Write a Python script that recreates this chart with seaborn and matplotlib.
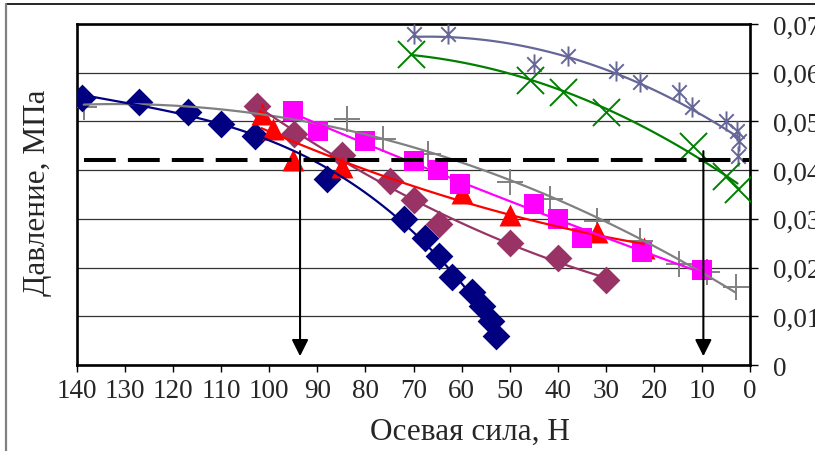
import matplotlib
matplotlib.use('Agg')
import matplotlib.pyplot as plt
from matplotlib.lines import Line2D
from matplotlib.path import Path
from matplotlib.ticker import FuncFormatter, MultipleLocator
import seaborn as sns

# данные (осевая сила, Н / давление, МПа)
navy_x = [139, 127, 117, 110, 103, 88, 72, 67.7, 64.6, 61.9, 57.8, 55.7, 53.9, 52.8]
navy_y = [0.0549, 0.0539, 0.0520, 0.0495, 0.0470, 0.0382, 0.0300, 0.0260, 0.0224,
          0.0181, 0.0149, 0.0122, 0.0091, 0.0060]

maroon_x = [102.6, 94.8, 84.9, 74.9, 70, 64.6, 49.9, 39.9, 29.9]
maroon_y = [0.0531, 0.0474, 0.0431, 0.0378, 0.0339, 0.0289, 0.0250, 0.0220, 0.0175]

red_x = [101.6, 99.2, 95, 84.9, 59.9, 50, 31.8, 22.1]
red_y = [0.0515, 0.0484, 0.0420, 0.0406, 0.0353, 0.0308, 0.0273, 0.0240]

magenta_x = [95, 89.9, 80.1, 70, 65, 60.3, 45, 40, 35, 22.4, 9.9]
magenta_y = [0.0522, 0.0481, 0.0460, 0.0418, 0.0401, 0.0371, 0.0330, 0.0300,
             0.0261, 0.0231, 0.0195]

gray_x = [138.6, 83.9, 76.3, 66.9, 49.9, 41.7, 31.9, 22.8, 14.8, 8.9, 3.0]
gray_y = [0.0529, 0.0505, 0.0464, 0.0433, 0.0375, 0.0341, 0.0296, 0.0255,
          0.0207, 0.0190, 0.0160]

slate_x = [70, 62.9, 45, 37.9, 27.8, 22.8, 14.8, 12, 4.9, 2.8, 2.3, 2.6]
slate_y = [0.0679, 0.0679, 0.0618, 0.0635, 0.0604, 0.0580, 0.0560, 0.0529,
           0.0501, 0.0481, 0.0460, 0.0430]

green_x = [70.5, 45.8, 38.8, 29.9, 11.9, 4.9, 2.6]
green_y = [0.0638, 0.0585, 0.0560, 0.0520, 0.0450, 0.0389, 0.0361]

threshold = 0.0421          # пунктирная линия
threshold_span = [138.5, 0.3]
arrow_x = [93.6, 9.7]       # стрелки вниз
arrow_top, arrow_tip = 0.0439, 0.0018

sns.set_style('white')
plt.rcParams['font.family'] = ['Liberation Serif', 'DejaVu Serif']

fig = plt.figure(figsize=(8.15, 4.52), dpi=100)
ax = fig.add_axes([77 / 815, 1 - 366 / 452, 673 / 815, 341 / 452])

# звёздочка как в Excel: вертикаль + косой крест
star = Path([(0, -1), (0, 1), (-0.72, -0.72), (0.72, 0.72), (-0.72, 0.72), (0.72, -0.72)],
            [Path.MOVETO, Path.LINETO, Path.MOVETO, Path.LINETO, Path.MOVETO, Path.LINETO])

series = [
    (gray_x, gray_y, '#808080', '+', 330, 2),
    (navy_x, navy_y, '#000080', 'D', 200, 3),
    (maroon_x, maroon_y, '#993366', 'D', 200, 2),
    (red_x, red_y, '#FF0000', '^', 250, 2),
    (magenta_x, magenta_y, '#FF00FF', 's', 200, 2),
    (slate_x, slate_y, '#666699', star, 210, 2),
    (green_x, green_y, '#008000', 'x', 380, 2),
]

for xs, ys, col, mk, size, order in series:
    line_art = isinstance(mk, Path) or mk in ('+', 'x')
    sns.scatterplot(x=xs, y=ys, marker=mk, s=size, color=col, edgecolor=col,
                    linewidth=1.4 if line_art else 0, ax=ax, zorder=3)
    sns.regplot(x=xs, y=ys, order=order, ci=None, scatter=False, truncate=True,
                line_kws=dict(color=col, lw=1.6, zorder=4), ax=ax)

# пунктир и стрелки
ax.plot(threshold_span, [threshold, threshold], color='black', lw=2.9,
        linestyle=(0, (7.9, 3.0)), dash_capstyle='butt', zorder=5)
for xa in arrow_x:
    ax.annotate('', xy=(xa, arrow_tip), xytext=(xa, arrow_top),
                arrowprops=dict(arrowstyle='-|>,head_length=1.0,head_width=0.5',
                                mutation_scale=10, lw=1.5, color='black',
                                shrinkA=0, shrinkB=0), zorder=6)

ax.set_xlim(140, 0)
ax.set_ylim(0, 0.07)
ax.xaxis.set_major_locator(MultipleLocator(10))
ax.yaxis.set_major_locator(MultipleLocator(0.01))
ax.yaxis.set_major_formatter(FuncFormatter(
    lambda v, p: '0' if abs(v) < 1e-9 else ('%.2f' % v).replace('.', ',')))
ax.yaxis.tick_right()
ax.grid(axis='y', color='#333333', lw=0.9)
ax.set_axisbelow(True)
for sp in ax.spines.values():
    sp.set_color('black')
    sp.set_linewidth(1.9)
ax.tick_params(axis='x', direction='out', length=5, width=1, color='black',
               labelsize=19.5, pad=4, bottom=True)
ax.tick_params(axis='y', direction='out', length=6, width=1, color='black',
               labelsize=19.5, pad=10.5, right=True, left=False)
ax.set_xlabel('')
ax.set_ylabel('')

fig.text(470 / 815, 1 - 432 / 452, 'Осевая сила, Н', fontsize=22.5,
         ha='center', va='center')
fig.text(38 / 815, 1 - 193 / 452, 'Давление, МПа', fontsize=22.5, rotation=90,
         ha='center', va='center')

# рамка области диаграммы
fig.add_artist(Line2D([6 / 815, 1], [1 - 5 / 452, 1 - 5 / 452],
                      transform=fig.transFigure, color='black', lw=1.2))
fig.add_artist(Line2D([6 / 815, 6 / 815], [0, 1 - 5 / 452],
                      transform=fig.transFigure, color='#808080', lw=1.6))

fig.savefig('out.png', dpi=100)
